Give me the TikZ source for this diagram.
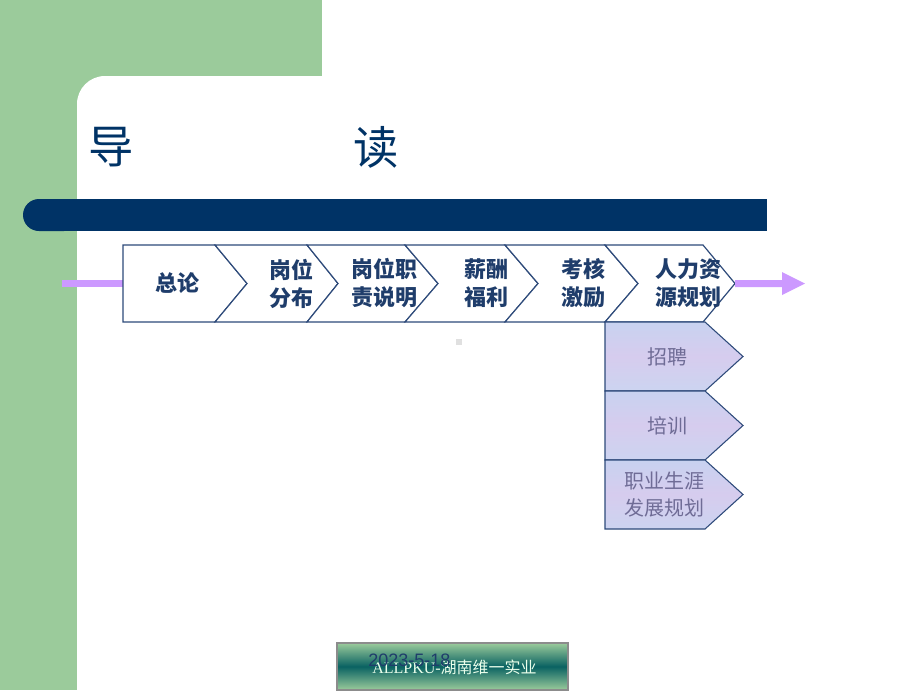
\documentclass[tikz,border=0pt]{standalone}
\usepackage{fontspec}
\setmainfont{Liberation Serif}
\newfontfamily\cjk{Noto Sans CJK SC}
\newfontfamily\arialf{Liberation Sans}
\usetikzlibrary{arrows.meta}
\definecolor{bggreen}{HTML}{9BCB9B}
\definecolor{navy}{HTML}{003366}
\definecolor{chevline}{HTML}{2E4A7A}
\definecolor{chevtext}{HTML}{1F3D6B}
\definecolor{lilac}{HTML}{CC99FF}
\definecolor{subtext}{HTML}{6F6C96}
\definecolor{teal}{HTML}{0A6262}
\definecolor{subA}{HTML}{C8D2F0}
\definecolor{subB}{HTML}{CCD4F0}
\definecolor{subC}{HTML}{D6CCEE}
\tikzset{
  chev/.style={draw=chevline, line width=0.9pt, fill=white},
  subbox/.style={draw=chevline, line width=0.8pt, top color=subA, bottom color=subB, middle color=subC},
  chevlabel/.style={text=chevtext, font=\cjk\bfseries\fontsize{16.5}{21}\selectfont, align=center, inner sep=0pt},
  sublabel/.style={text=subtext, font=\cjk\fontsize{15}{20.5}\selectfont, align=center, inner sep=0pt},
}
\begin{document}
\begin{tikzpicture}[x=0.75pt,y=-0.75pt]
\useasboundingbox (0,0) rectangle (920,690);
% background
\fill[white] (0,0) rectangle (920,690);
\fill[bggreen] (0,0) rectangle (322,76);
\fill[bggreen] (0,0) rectangle (77,690);
\fill[bggreen] (77,76) rectangle (120,120);
\fill[white] (77,690) [rounded corners=21pt] -- (77,76) [sharp corners] -- (330,76) -- (330,200) -- (77,690) -- cycle;
\fill[white] (320,76) rectangle (920,690);
% title
\node[text=navy, font=\cjk\fontsize{34}{34}\selectfont, inner sep=0pt] (t1) at (111,147) {导};
\node[text=navy, font=\cjk\fontsize{34}{34}\selectfont, inner sep=0pt] (t2) at (376,147) {读};
% bar
\fill[navy, rounded corners=12pt] (23,199) rectangle (80,231);
\fill[navy] (50,199) rectangle (767,231);
% purple left line
\fill[lilac] (62,280) rectangle (123,287);
% chevrons
\draw[chev] (123,245) -- (215,245) -- (247,283.5) -- (215,322) -- (123,322) -- cycle;
\draw[chev] (215,245) -- (307,245) -- (338,283.5) -- (307,322) -- (215,322) -- (247,283.5) -- cycle;
\draw[chev] (307,245) -- (405,245) -- (438,283.5) -- (405,322) -- (307,322) -- (338,283.5) -- cycle;
\draw[chev] (405,245) -- (505,245) -- (538,283.5) -- (505,322) -- (405,322) -- (438,283.5) -- cycle;
\draw[chev] (505,245) -- (605,245) -- (638,283.5) -- (605,322) -- (505,322) -- (538,283.5) -- cycle;
\draw[chev] (605,245) -- (703,245) -- (735,283.5) -- (703,322) -- (605,322) -- (638,283.5) -- cycle;
\node[chevlabel] (c1) at (177,283.5) {总论};
\node[chevlabel] (c2) at (291,283.5) {岗位\\分布};
\node[chevlabel] (c3) at (384,283.5) {岗位职\\责说明};
\node[chevlabel] (c4) at (486,283.5) {薪酬\\福利};
\node[chevlabel] (c5) at (583,283.5) {考核\\激励};
\node[chevlabel] (c6) at (688,283.5) {人力资\\源规划};
% right purple arrow
\fill[lilac] (735,280) -- (782,280) -- (782,272) -- (805,283.5) -- (782,295) -- (782,287) -- (735,287) -- cycle;
% sub boxes
\draw[subbox] (605,322) -- (705,322) -- (743,356.5) -- (705,391) -- (605,391) -- cycle;
\draw[subbox] (605,391) -- (705,391) -- (743,425.5) -- (705,460) -- (605,460) -- cycle;
\draw[subbox] (605,460) -- (705,460) -- (743,494.5) -- (705,529) -- (605,529) -- cycle;
\node[sublabel] (s1) at (667,356.5) {招聘};
\node[sublabel] (s2) at (667,425.5) {培训};
\node[sublabel] (s3) at (664,494.5) {职业生涯\\发展规划};
% small grey square
\fill[black!12] (456,339) rectangle (462,345);
% footer
\shade[top color=bggreen, bottom color=bggreen, middle color=teal] (337,643) rectangle (568,690);
\draw[draw=black!45, line width=0.8pt] (337,643) rectangle (568,690);
\node[text=white!92!green, inner sep=0pt, anchor=west] (f2) at (372,667) {\fontsize{12}{12}\selectfont ALLPKU-{\cjk 湖南维一实业}};
\node[text=chevtext, inner sep=0pt, anchor=west] (f1) at (368,660) {\arialf\fontsize{13.5}{13.5}\selectfont 2023-5-18};
\end{tikzpicture}
\end{document}
